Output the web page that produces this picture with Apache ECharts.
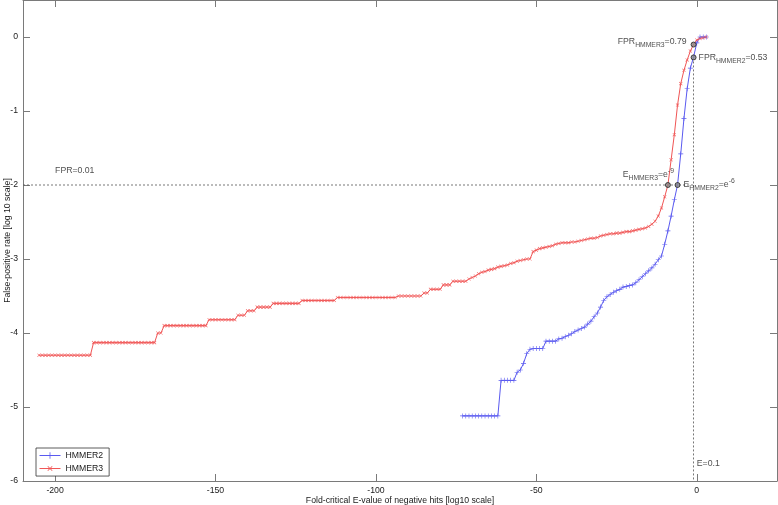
<!DOCTYPE html>
<html><head><meta charset="utf-8">
<script src="https://cdn.jsdelivr.net/npm/echarts@6/dist/echarts.min.js"></script>
<style>html,body{margin:0;padding:0;background:#fff}#c{width:778px;height:505px}</style>
</head><body><div id="c"></div>
<script>
// ---- data ----
const xTicks = [-200, -150, -100, -50, 0];
const yTicks = [-6, -5, -4, -3, -2, -1, 0];
const seriesNames = ['HMMER2', 'HMMER3'];

// HMMER2: one sample per integer x, starting at x = -73
const hmmer2Start = -73;
const hmmer2Y = [
  -5.12,-5.12,-5.12,-5.12,-5.12,-5.12,-5.12,-5.12,-5.12,-5.12,-5.12,-5.12,
  -4.64,-4.64,-4.64,-4.64,-4.64,
  -4.53,-4.50,-4.41,-4.28,-4.22,
  -4.21,-4.21,-4.21,-4.21,
  -4.11,-4.11,-4.11,-4.11,
  -4.08,-4.07,-4.05,-4.03,-4.01,-3.98,-3.96,-3.94,-3.92,-3.88,
  -3.84,-3.78,-3.73,-3.65,-3.56,-3.51,-3.48,-3.45,-3.43,-3.41,
  -3.38,-3.37,-3.36,-3.35,-3.32,-3.28,-3.24,-3.20,-3.16,-3.12,
  -3.07,-3.01,-2.96,-2.80,-2.62,-2.42,-2.20,-2.00,-1.58,-1.10,
  -0.70,-0.42,-0.27,-0.08,0.00,0.00,0.00
];

// HMMER3: one sample per integer x, starting at x = -205
const hmmer3Start = -205;
const hmmer3Y = [
  -4.30,-4.30,-4.30,-4.30,-4.30,-4.30,-4.30,-4.30,-4.30,-4.30,-4.30,-4.30,-4.30,-4.30,-4.30,-4.30,-4.30,
  -4.13,-4.13,-4.13,-4.13,-4.13,-4.13,-4.13,-4.13,-4.13,-4.13,-4.13,-4.13,-4.13,-4.13,-4.13,-4.13,-4.13,-4.13,-4.13,-4.13,
  -4.00,-4.00,
  -3.90,-3.90,-3.90,-3.90,-3.90,-3.90,-3.90,-3.90,-3.90,-3.90,-3.90,-3.90,-3.90,-3.90,
  -3.82,-3.82,-3.82,-3.82,-3.82,-3.82,-3.82,-3.82,-3.82,
  -3.76,-3.76,-3.76,
  -3.70,-3.70,-3.70,
  -3.65,-3.65,-3.65,-3.65,-3.65,
  -3.60,-3.60,-3.60,-3.60,-3.60,-3.60,-3.60,-3.60,-3.60,
  -3.56,-3.56,-3.56,-3.56,-3.56,-3.56,-3.56,-3.56,-3.56,-3.56,-3.56,
  -3.52,-3.52,-3.52,-3.52,-3.52,-3.52,-3.52,-3.52,-3.52,-3.52,-3.52,-3.52,-3.52,-3.52,-3.52,-3.52,-3.52,-3.52,-3.52,
  -3.50,-3.50,-3.50,-3.50,-3.50,-3.50,-3.50,-3.50,
  -3.46,-3.46,
  -3.41,-3.41,-3.41,-3.41,
  -3.35,-3.35,-3.35,
  -3.30,-3.30,-3.30,-3.30,-3.30,
  -3.27,
  -3.25,-3.23,-3.20,-3.18,-3.17,-3.15,-3.14,-3.13,-3.11,-3.10,
  -3.09,-3.08,-3.06,-3.05,-3.03,-3.02,-3.01,-3.00,-3.00,-2.90,
  -2.88,-2.86,-2.85,-2.84,-2.83,-2.82,-2.80,-2.79,-2.78,-2.78,
  -2.78,-2.77,-2.77,-2.76,-2.75,-2.74,-2.73,-2.72,-2.72,-2.71,
  -2.69,-2.68,-2.67,-2.66,-2.66,-2.65,-2.65,-2.64,-2.63,-2.63,
  -2.62,-2.61,-2.60,-2.59,-2.58,-2.56,
  -2.53,-2.49,-2.42,-2.31,-2.16,-2.00,-1.66,-1.32,-0.92,-0.63,
  -0.45,-0.31,-0.19,-0.10,-0.04,-0.02,-0.01,0.00
];

// reference lines
const fprLine = [[-210, -2], [-1, -2]];
const eLine = [[-1, -0.276], [-1, -6]];

// highlighted points and their labels
const keyPoints = [[-9, -2], [-6, -2], [-1, -0.102], [-1, -0.276]];
const keyLabels = [
  '{n|E}{s|HMMER3}{n|=e}{p|-9}',
  '{n|E}{s|HMMER2}{n|=e}{p|-6}',
  '{n|FPR}{s|HMMER3}{n|=0.79}',
  '{n|FPR}{s|HMMER2}{n|=0.53}'
];
const notePoints = [[-200, -1.81], [0, -5.76]];
const noteLabels = ['FPR=0.01', 'E=0.1'];

// ---- chart ----
const FONT = '"Liberation Sans", Arial, Helvetica, sans-serif';
const AX = '#7a7a7a';
const TXT = '#1a1a1a';
const BLUE = '#5a5af0';
const RED = '#f05555';
const PLUS = 'path://M4.4,0H5.6V10H4.4Z M0,4.4H10V5.6H0Z';

function pairs(start, ys) { return ys.map((y, i) => [start + i, y]); }

const rich = {
  n: { fontSize: 8.7, lineHeight: 12, color: TXT, fontFamily: FONT },
  s: { fontSize: 6.8, lineHeight: 9, padding: [7, 0, 0, 0], color: TXT, fontFamily: FONT },
  p: { fontSize: 6.8, lineHeight: 9, padding: [0, 0, 7, 0], color: TXT, fontFamily: FONT }
};
const keyLabelPos = [
  { position: [9, -1], align: 'right', verticalAlign: 'bottom' },
  { position: 'right', distance: 3 },
  { position: 'left', distance: 4, offset: [0, -3] },
  { position: 'right', distance: 2 }
];

function xAx(pos, withLabels) {
  return {
    type: 'value', min: -210, max: 25, position: pos,
    axisLine: { show: true, onZero: false, lineStyle: { color: AX, width: 1 } },
    axisTick: { show: true, inside: true, length: 7, customValues: xTicks, lineStyle: { color: AX } },
    axisLabel: { show: withLabels, customValues: xTicks, color: TXT, fontSize: 8.7, fontFamily: FONT, margin: 5 },
    splitLine: { show: false },
    name: withLabels ? 'Fold-critical E-value of negative hits [log10 scale]' : '',
    nameLocation: 'middle', nameGap: 15, nameMoveOverlap: false,
    nameTextStyle: { color: TXT, fontSize: 8.7, fontFamily: FONT }
  };
}
function yAx(pos, withLabels) {
  return {
    type: 'value', min: -6, max: 0.5, position: pos,
    axisLine: { show: true, onZero: false, lineStyle: { color: AX, width: 1 } },
    axisTick: { show: true, inside: true, length: 7, customValues: yTicks, lineStyle: { color: AX } },
    axisLabel: { show: withLabels, customValues: yTicks, color: TXT, fontSize: 8.7, fontFamily: FONT, margin: 5 },
    splitLine: { show: false },
    name: withLabels ? 'False-positive rate [log 10 scale]' : '',
    nameLocation: 'middle', nameGap: 11, nameRotate: 90, nameMoveOverlap: false,
    nameTextStyle: { color: TXT, fontSize: 8.7, fontFamily: FONT }
  };
}

const chart = echarts.init(document.getElementById('c'), null, { renderer: 'canvas' });
chart.setOption({
  animation: false,
  backgroundColor: '#fff',
  grid: { left: 23, top: 0, width: 754, height: 481, containLabel: false, outerBoundsMode: 'none' },
  xAxis: [xAx('bottom', true), xAx('top', false)],
  yAxis: [yAx('left', true), yAx('right', false)],
  legend: {
    data: seriesNames, orient: 'vertical', left: 36, top: 448,
    itemWidth: 21, itemHeight: 8, itemGap: 4, padding: [3, 6, 3, 3],
    borderColor: '#333', borderWidth: 0.8, borderRadius: 0, backgroundColor: '#fff',
    lineStyle: { width: 1 },
    textStyle: { fontSize: 8.7, color: TXT, fontFamily: FONT }
  },
  series: [
    {
      type: 'line', silent: true, data: fprLine, symbol: 'none',
      lineStyle: { color: '#555', width: 0.8, type: [2, 2] }, z: 1
    },
    {
      type: 'line', silent: true, data: eLine, symbol: 'none',
      lineStyle: { color: '#555', width: 0.8, type: [2, 2] }, z: 1
    },
    {
      name: seriesNames[0], type: 'line', data: pairs(hmmer2Start, hmmer2Y),
      symbol: PLUS, symbolSize: 5, showAllSymbol: true,
      lineStyle: { color: BLUE, width: 1 }, itemStyle: { color: BLUE }, z: 3
    },
    {
      name: seriesNames[1], type: 'line', data: pairs(hmmer3Start, hmmer3Y),
      symbol: PLUS, symbolSize: 4.5, symbolRotate: 45, showAllSymbol: true,
      lineStyle: { color: RED, width: 1 }, itemStyle: { color: RED }, z: 3
    },
    {
      type: 'scatter', silent: true, z: 5,
      symbol: 'circle', symbolSize: 5,
      itemStyle: { color: '#8a8a8a', borderColor: '#222', borderWidth: 1 },
      data: keyPoints.map((p, i) => ({
        value: p,
        label: Object.assign({ show: true, formatter: keyLabels[i], rich: rich }, keyLabelPos[i])
      }))
    },
    {
      type: 'scatter', silent: true, z: 5, symbolSize: 0,
      data: notePoints.map((p, i) => ({
        value: p,
        label: { show: true, formatter: noteLabels[i], position: 'right', distance: 0,
          color: TXT, fontSize: 8.7, fontFamily: FONT }
      }))
    }
  ]
});
</script></body></html>
